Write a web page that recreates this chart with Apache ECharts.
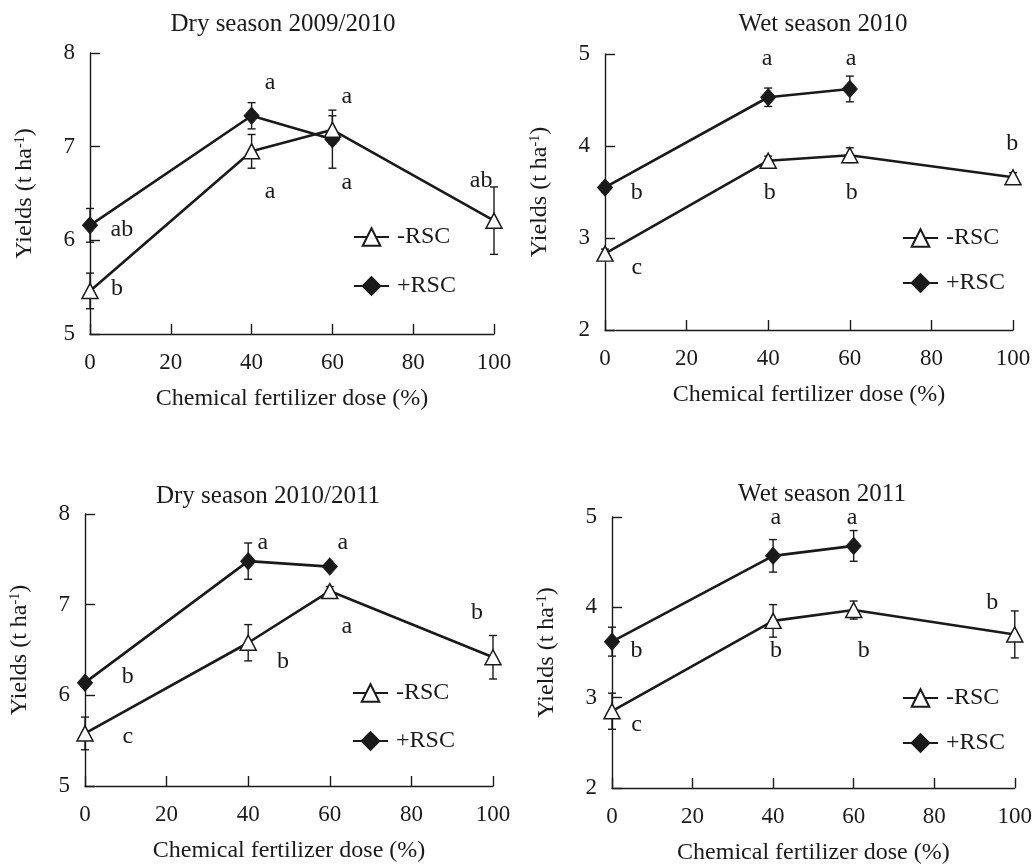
<!DOCTYPE html>
<html>
<head>
<meta charset="utf-8">
<script src="https://cdn.jsdelivr.net/npm/echarts@6/dist/echarts.min.js"></script>
<style>
  html, body { margin: 0; padding: 0; background: #fff; }
  #chart { width: 1035px; height: 866px; }
</style>
</head>
<body>
<div id="chart"></div>
<script>
// doses of chemical fertilizer (%)
const doses = [0, 40, 60, 100]
const dosesPlus = [0, 40, 60]

// Dry season 2009/2010
const dry1Minus = [5.46, 6.95, 7.18, 6.21]
const dry1MinusErr = [0.19, 0.18, 0.15, 0.36]
const dry1Plus = [6.16, 7.33, 7.08]
const dry1PlusErr = [0.18, 0.14, 0.31]
const dry1Letters = [[44.6, 7.68, 'a'], [63.6, 7.53, 'a'], [44.6, 6.52, 'a'], [63.6, 6.62, 'a'], [96.8, 6.64, 'ab'], [7.9, 6.11, 'ab'], [6.7, 5.48, 'b']]

// Wet season 2010
const wet1Minus = [2.83, 3.84, 3.90, 3.66]
const wet1MinusErr = [0.05, 0.05, 0.08, 0.05]
const wet1Plus = [3.55, 4.53, 4.62]
const wet1PlusErr = [0.05, 0.1, 0.14]
const wet1Letters = [[39.7, 4.95, 'a'], [60.3, 4.95, 'a'], [99.8, 4.03, 'b'], [7.8, 3.49, 'b'], [40.4, 3.49, 'b'], [60.5, 3.49, 'b'], [7.8, 2.68, 'c']]

// Dry season 2010/2011
const dry2Minus = [5.58, 6.58, 7.15, 6.42]
const dry2MinusErr = [0.18, 0.2, 0.05, 0.24]
const dry2Plus = [6.14, 7.48, 7.42]
const dry2PlusErr = [0.04, 0.2, 0.03]
const dry2Letters = [[43.6, 7.68, 'a'], [63.2, 7.68, 'a'], [96.1, 6.91, 'b'], [64.2, 6.76, 'a'], [48.5, 6.37, 'b'], [10.5, 6.21, 'b'], [10.5, 5.54, 'c']]

// Wet season 2011
const wet2Minus = [2.85, 3.85, 3.97, 3.70]
const wet2MinusErr = [0.2, 0.18, 0.1, 0.26]
const wet2Plus = [3.62, 4.57, 4.68]
const wet2PlusErr = [0.16, 0.18, 0.17]
const wet2Letters = [[40.7, 4.99, 'a'], [59.6, 4.99, 'a'], [94.4, 4.05, 'b'], [6.1, 3.52, 'b'], [40.7, 3.52, 'b'], [62.5, 3.52, 'b'], [6.1, 2.70, 'c']]

const FONT = '"Liberation Serif", "Times New Roman", serif'
const INK = '#1a1a1a'

const panels = [
  { title: 'Dry season 2009/2010', min: 5, max: 8, minus: dry1Minus, minusErr: dry1MinusErr, plus: dry1Plus, plusErr: dry1PlusErr, letters: dry1Letters,
    grid: { left: 90, top: 53, width: 404, height: 281 }, titlePos: [283, 24], legendPos: [353, 237, 286] },
  { title: 'Wet season 2010', min: 2, max: 5, minus: wet1Minus, minusErr: wet1MinusErr, plus: wet1Plus, plusErr: wet1PlusErr, letters: wet1Letters,
    grid: { left: 605, top: 54, width: 408, height: 276 }, titlePos: [823, 24], legendPos: [902, 238, 283] },
  { title: 'Dry season 2010/2011', min: 5, max: 8, minus: dry2Minus, minusErr: dry2MinusErr, plus: dry2Plus, plusErr: dry2PlusErr, letters: dry2Letters,
    grid: { left: 85, top: 514, width: 408, height: 272 }, titlePos: [268, 496], legendPos: [352, 693, 741] },
  { title: 'Wet season 2011', min: 2, max: 5, minus: wet2Minus, minusErr: wet2MinusErr, plus: wet2Plus, plusErr: wet2PlusErr, letters: wet2Letters,
    grid: { left: 612, top: 517, width: 408, height: 272 }, titlePos: [822, 494], legendPos: [902, 698, 743] }
]

function errorSeries(i, xs, ys, errs) {
  return {
    type: 'custom',
    xAxisIndex: i,
    yAxisIndex: i,
    silent: true,
    z: 1,
    data: xs.map((x, k) => [x, ys[k], errs[k]]),
    renderItem: (params, api) => {
      const x = api.value(0), y = api.value(1), e = api.value(2)
      const top = api.coord([x, y + e])
      const bot = api.coord([x, y - e])
      const w = 4
      const style = { stroke: INK, lineWidth: 1.4 }
      return {
        type: 'group',
        children: [
          { type: 'line', shape: { x1: top[0], y1: top[1], x2: bot[0], y2: bot[1] }, style },
          { type: 'line', shape: { x1: top[0] - w, y1: top[1], x2: top[0] + w, y2: top[1] }, style },
          { type: 'line', shape: { x1: bot[0] - w, y1: bot[1], x2: bot[0] + w, y2: bot[1] }, style }
        ]
      }
    }
  }
}

let grids = [], xAxes = [], yAxes = [], series = [], legends = [], graphics = []

panels.forEach((p, i) => {
  grids.push(p.grid)
  xAxes.push({
    type: 'value', gridIndex: i, min: 0, max: 100, interval: 20,
    name: 'Chemical fertilizer dose (%)', nameLocation: 'middle', nameGap: 53,
    nameTextStyle: { fontFamily: FONT, fontSize: 24, color: INK },
    axisLine: { lineStyle: { color: INK, width: 1.4 } },
    axisTick: { inside: true, length: 10, lineStyle: { color: INK, width: 1.4 } },
    axisLabel: { fontFamily: FONT, fontSize: 23, color: INK, margin: 17 },
    splitLine: { show: false }
  })
  yAxes.push({
    type: 'value', gridIndex: i, min: p.min, max: p.max, interval: 1,
    name: 'Yields (t ha{sup|-1})', nameLocation: 'middle', nameGap: 53,
    nameTextStyle: { fontFamily: FONT, fontSize: 24, color: INK, lineHeight: 24,
      rich: { sup: { fontFamily: FONT, fontSize: 14, color: INK, verticalAlign: 'top', lineHeight: 24 } } },
    axisLine: { show: true, lineStyle: { color: INK, width: 1.4 } },
    axisTick: { show: true, inside: true, length: 10, lineStyle: { color: INK, width: 1.4 } },
    axisLabel: { fontFamily: FONT, fontSize: 23, color: INK, margin: 15 },
    splitLine: { show: false }
  })

  series.push(errorSeries(i, doses, p.minus, p.minusErr))
  series.push(errorSeries(i, dosesPlus, p.plus, p.plusErr))

  series.push({
    name: '+RSC', type: 'line', xAxisIndex: i, yAxisIndex: i, z: 3,
    data: dosesPlus.map((x, k) => [x, p.plus[k]]),
    symbol: 'diamond', symbolSize: [15, 17],
    lineStyle: { color: INK, width: 2.6 },
    itemStyle: { color: INK, borderColor: INK, borderWidth: 1 },
    emphasis: { disabled: true }
  })
  series.push({
    name: '-RSC', type: 'line', xAxisIndex: i, yAxisIndex: i, z: 4,
    data: doses.map((x, k) => [x, p.minus[k]]),
    symbol: 'triangle', symbolSize: [16, 15],
    lineStyle: { color: INK, width: 2.6 },
    itemStyle: { color: '#fff', borderColor: INK, borderWidth: 1.5 },
    emphasis: { disabled: true }
  })

  const lt = p.letters
  series.push({
    type: 'custom', xAxisIndex: i, yAxisIndex: i, silent: true, z: 5,
    data: lt.map(d => [d[0], d[1]]),
    renderItem: (params, api) => {
      const pt = api.coord([api.value(0), api.value(1)])
      return {
        type: 'text', x: pt[0], y: pt[1],
        style: { text: lt[params.dataIndex][2], fontFamily: FONT, fontSize: 24, fill: INK, align: 'center', verticalAlign: 'middle' }
      }
    }
  })

  const lp = p.legendPos
  ;['-RSC', '+RSC'].forEach((nm, k) => {
    legends.push({
      data: [nm], left: lp[0], top: lp[1 + k] - 12, orient: 'vertical', padding: 0,
      itemWidth: 35, itemHeight: 22, selectedMode: false,
      textStyle: { fontFamily: FONT, fontSize: 24, color: INK, lineHeight: 24, padding: [0, 0, 0, 3] }
    })
  })

  graphics.push({
    type: 'text', x: p.titlePos[0], y: p.titlePos[1],
    style: { text: p.title, fontFamily: FONT, fontSize: 25, fill: INK, align: 'center', verticalAlign: 'middle' }
  })
})

const chart = echarts.init(document.getElementById('chart'))
chart.setOption({
  animation: false,
  backgroundColor: '#fff',
  grid: grids,
  xAxis: xAxes,
  yAxis: yAxes,
  legend: legends,
  graphic: graphics,
  series: series
})
</script>
</body>
</html>
